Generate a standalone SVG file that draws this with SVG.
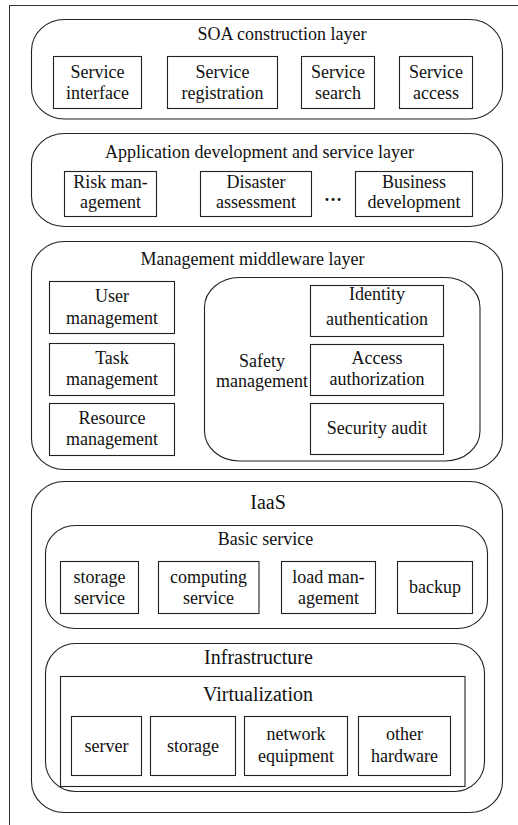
<svg xmlns="http://www.w3.org/2000/svg" width="518" height="825" viewBox="0 0 518 825">
<style>
.frame{fill:none;stroke:#333;stroke-width:1}
.layer{fill:#fff;stroke:#222;stroke-width:1.1}
.box{fill:#fff;stroke:#222;stroke-width:1.1}
.t{font-size:18px;fill:#111;text-anchor:middle}
.big{font-size:20px}
</style>
<rect width="518" height="825" fill="#fff"/>
<rect class="frame" x="9.5" y="5.5" width="530" height="840"/>
<g font-family="Liberation Serif, serif">
<g id="soa-layer">
<rect class="layer" x="31.5" y="19.5" width="471" height="99.5" rx="33" ry="31"/>
<text class="t" x="282" y="40">SOA construction layer</text>
</g>
<g id="service-interface"><rect class="box" x="53.5" y="56.5" width="88" height="52"/><text class="t" x="97.5" y="77.5">Service</text><text class="t" x="97.5" y="99">interface</text></g>
<g id="service-registration"><rect class="box" x="167.5" y="56.5" width="110" height="52"/><text class="t" x="222.5" y="77.5">Service</text><text class="t" x="222.5" y="99">registration</text></g>
<g id="service-search"><rect class="box" x="301.5" y="56.5" width="73" height="52"/><text class="t" x="338" y="77.5">Service</text><text class="t" x="338" y="99">search</text></g>
<g id="service-access"><rect class="box" x="399.5" y="56.5" width="73" height="52"/><text class="t" x="436" y="77.5">Service</text><text class="t" x="436" y="99">access</text></g>

<g id="app-layer">
<rect class="layer" x="31.5" y="133.5" width="471" height="93" rx="33" ry="30"/>
<text class="t" x="259.5" y="157.5">Application development and service layer</text>
</g>
<g id="risk-management"><rect class="box" x="64.5" y="171.5" width="92" height="45"/><text class="t" x="110.5" y="187.5">Risk man-</text><text class="t" x="110.5" y="208">agement</text></g>
<g id="disaster-assessment"><rect class="box" x="200.5" y="171.5" width="111" height="45"/><text class="t" x="256" y="187.5">Disaster</text><text class="t" x="256" y="208">assessment</text></g>
<g id="ellipsis"><text class="t" x="333" y="201" font-weight="bold">…</text></g>
<g id="business-development"><rect class="box" x="355.5" y="171.5" width="117" height="45"/><text class="t" x="414" y="187.5">Business</text><text class="t" x="414" y="208">development</text></g>

<g id="middleware-layer">
<rect class="layer" x="31.5" y="241.5" width="471" height="228" rx="33" ry="31"/>
<text class="t" x="252.5" y="265">Management middleware layer</text>
</g>
<g id="user-management"><rect class="box" x="49.5" y="281.5" width="125" height="52"/><text class="t" x="112" y="301.5">User</text><text class="t" x="112" y="323.5">management</text></g>
<g id="task-management"><rect class="box" x="49.5" y="343.5" width="125" height="52"/><text class="t" x="112" y="363.5">Task</text><text class="t" x="112" y="384.5">management</text></g>
<g id="resource-management"><rect class="box" x="49.5" y="403.5" width="125" height="52"/><text class="t" x="112" y="424">Resource</text><text class="t" x="112" y="445">management</text></g>
<g id="safety-management">
<rect class="layer" x="204.5" y="277.5" width="275.5" height="183.5" rx="35" ry="30"/>
<text class="t" x="262" y="366.5">Safety</text><text class="t" x="262" y="386.5">management</text>
</g>
<g id="identity-authentication"><rect class="box" x="310.5" y="285.5" width="133" height="51"/><text class="t" x="377" y="299.5">Identity</text><text class="t" x="377" y="325">authentication</text></g>
<g id="access-authorization"><rect class="box" x="310.5" y="344.5" width="133" height="51"/><text class="t" x="377" y="363.5">Access</text><text class="t" x="377" y="384.5">authorization</text></g>
<g id="security-audit"><rect class="box" x="310.5" y="403.5" width="133" height="51"/><text class="t" x="377" y="433.5">Security audit</text></g>

<g id="iaas-layer">
<rect class="layer" x="31.5" y="481.5" width="471" height="331" rx="33" ry="31"/>
<text class="t big" x="268" y="508.5">IaaS</text>
</g>
<g id="basic-service">
<rect class="layer" x="45.5" y="525.5" width="442" height="103" rx="30" ry="28"/>
<text class="t" x="265.5" y="545">Basic service</text>
</g>
<g id="storage-service"><rect class="box" x="60.5" y="561.5" width="78" height="52"/><text class="t" x="99.5" y="583">storage</text><text class="t" x="99.5" y="603.5">service</text></g>
<g id="computing-service"><rect class="box" x="158.5" y="561.5" width="100.5" height="52"/><text class="t" x="208.5" y="583">computing</text><text class="t" x="208.5" y="603.5">service</text></g>
<g id="load-management"><rect class="box" x="281.5" y="561.5" width="94" height="52"/><text class="t" x="328.5" y="583">load man-</text><text class="t" x="328.5" y="603.5">agement</text></g>
<g id="backup"><rect class="box" x="397.5" y="561.5" width="75" height="52"/><text class="t" x="435" y="593">backup</text></g>

<g id="infrastructure">
<rect class="layer" x="45.5" y="643.5" width="439" height="148" rx="30" ry="30"/>
<text class="t big" x="258.5" y="663.5">Infrastructure</text>
</g>
<g id="virtualization">
<rect class="box" x="60.5" y="676.5" width="404.5" height="110"/>
<text class="t big" x="258" y="700.5">Virtualization</text>
</g>
<g id="server"><rect class="box" x="71.5" y="716.5" width="70" height="59"/><text class="t" x="106.5" y="751.5">server</text></g>
<g id="storage"><rect class="box" x="150.5" y="716.5" width="85" height="59"/><text class="t" x="193" y="751.5">storage</text></g>
<g id="network-equipment"><rect class="box" x="244.5" y="716.5" width="103" height="59"/><text class="t" x="296" y="740">network</text><text class="t" x="296" y="761.5">equipment</text></g>
<g id="other-hardware"><rect class="box" x="358.5" y="716.5" width="92" height="59"/><text class="t" x="404.5" y="740">other</text><text class="t" x="404.5" y="761.5">hardware</text></g>
<g id="connectors"></g>
</g>
</svg>
